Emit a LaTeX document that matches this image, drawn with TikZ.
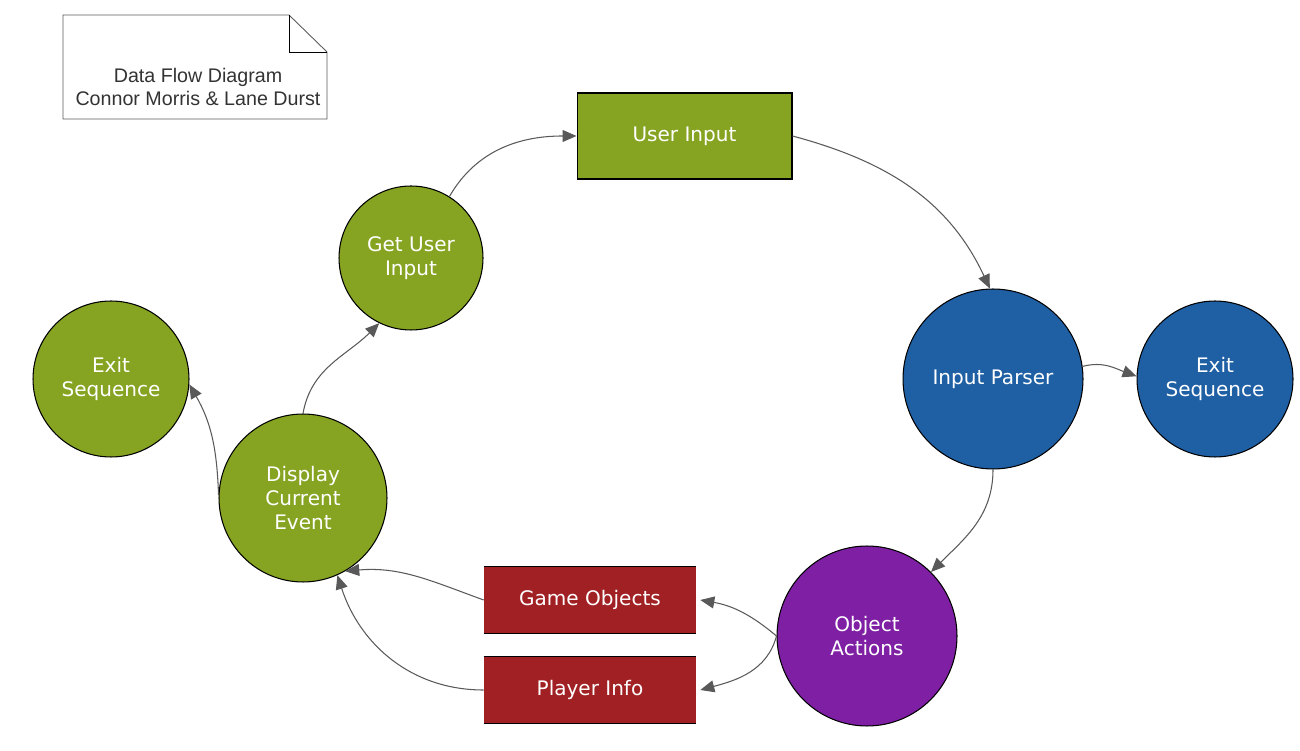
\documentclass[tikz,border=0pt]{standalone}
\usepackage{fontspec}
\setmainfont{DejaVu Sans}
\newfontfamily\notefont{Liberation Sans}
\usetikzlibrary{arrows.meta}
\definecolor{dfgreen}{RGB}{134,164,34}
\definecolor{dfblue}{RGB}{31,95,164}
\definecolor{dfpurple}{RGB}{126,31,164}
\definecolor{dfred}{RGB}{161,32,35}
\definecolor{dfline}{RGB}{89,89,89}
\definecolor{notetext}{RGB}{51,51,51}
\tikzset{
  proc/.style={circle, draw=black, line width=0.6pt, text=white, align=center,
    font=\fontsize{11.4}{13.5}\selectfont, inner sep=0pt},
  entity/.style={rectangle, draw=black, line width=0.6pt, fill=dfgreen, text=white,
    font=\fontsize{11.4}{13.5}\selectfont, minimum width=4.3cm, minimum height=1.72cm},
  store/.style={rectangle, fill=dfred, text=white, font=\fontsize{11.4}{13.5}\selectfont,
    minimum width=4.24cm, minimum height=1.34cm},
  flow/.style={draw=dfline, line width=0.6pt, -{Triangle[length=0.28cm, width=0.24cm]}}
}
\begin{document}
\begin{tikzpicture}[x=0.02cm, y=0.02cm]
\useasboundingbox (0,0) rectangle (1300,750);
% note
\draw[gray!70!black, line width=0.5pt] (63,735)--(289,735)--(327,698)--(327,631)--(63,631)--cycle;
\draw[black, line width=0.5pt] (289,735)--(289,698)--(327,698);
\node[text=notetext, align=center, font=\notefont\fontsize{11.2}{12.6}\selectfont](N) at (198,663){Data Flow Diagram\\Connor Morris \& Lane Durst};
% processes and entities
\node[entity](UI) at (684.5,614){User Input};
\node[proc, fill=dfgreen, minimum size=2.88cm](GUI) at (411,492){Get User\\ Input};
\node[proc, fill=dfgreen, minimum size=3.12cm](EXL) at (111,371){Exit\\Sequence};
\node[proc, fill=dfgreen, minimum size=3.36cm](DCE) at (303,252){Display\\ Current\\Event};
\node[proc, fill=dfblue, minimum size=3.6cm](IP) at (993,371){Input Parser};
\node[proc, fill=dfblue, minimum size=3.12cm](EXR) at (1215,371){Exit\\Sequence};
\node[proc, fill=dfpurple, minimum size=3.6cm](OA) at (867,114){Object\\Actions};
\node[store](GO) at (590,150){Game Objects};
\node[store](PI) at (590,60){Player Info};
\draw[black, line width=0.6pt] (GO.north west)--(GO.north east) (GO.south west)--(GO.south east);
\draw[black, line width=0.6pt] (PI.north west)--(PI.north east) (PI.south west)--(PI.south east);
% flows
\draw[flow](GUI.58) to [out=60, in=180](UI.west);
\draw[flow](UI.east) to [out=-15, in=115](IP.92);
\draw[flow](IP.8) to [out=15, in=160](EXR.178);
\draw[flow](IP.south) to [out=-90, in=45](OA.45);
\draw[flow](OA.180) to [out=140, in=-10]([xshift=0.08cm]GO.east);
\draw[flow](OA.180) to [out=-105, in=15]([xshift=0.08cm]PI.east);
\draw[flow](GO.west) to [out=160, in=5](DCE.-60);
\draw[flow](PI.west) to [out=180, in=-72](DCE.-66);
\draw[flow](DCE.north) to [out=80, in=-135](GUI.-116);
\draw[flow](DCE.178) to [out=92, in=-60](EXL.-4);
\end{tikzpicture}
\end{document}
